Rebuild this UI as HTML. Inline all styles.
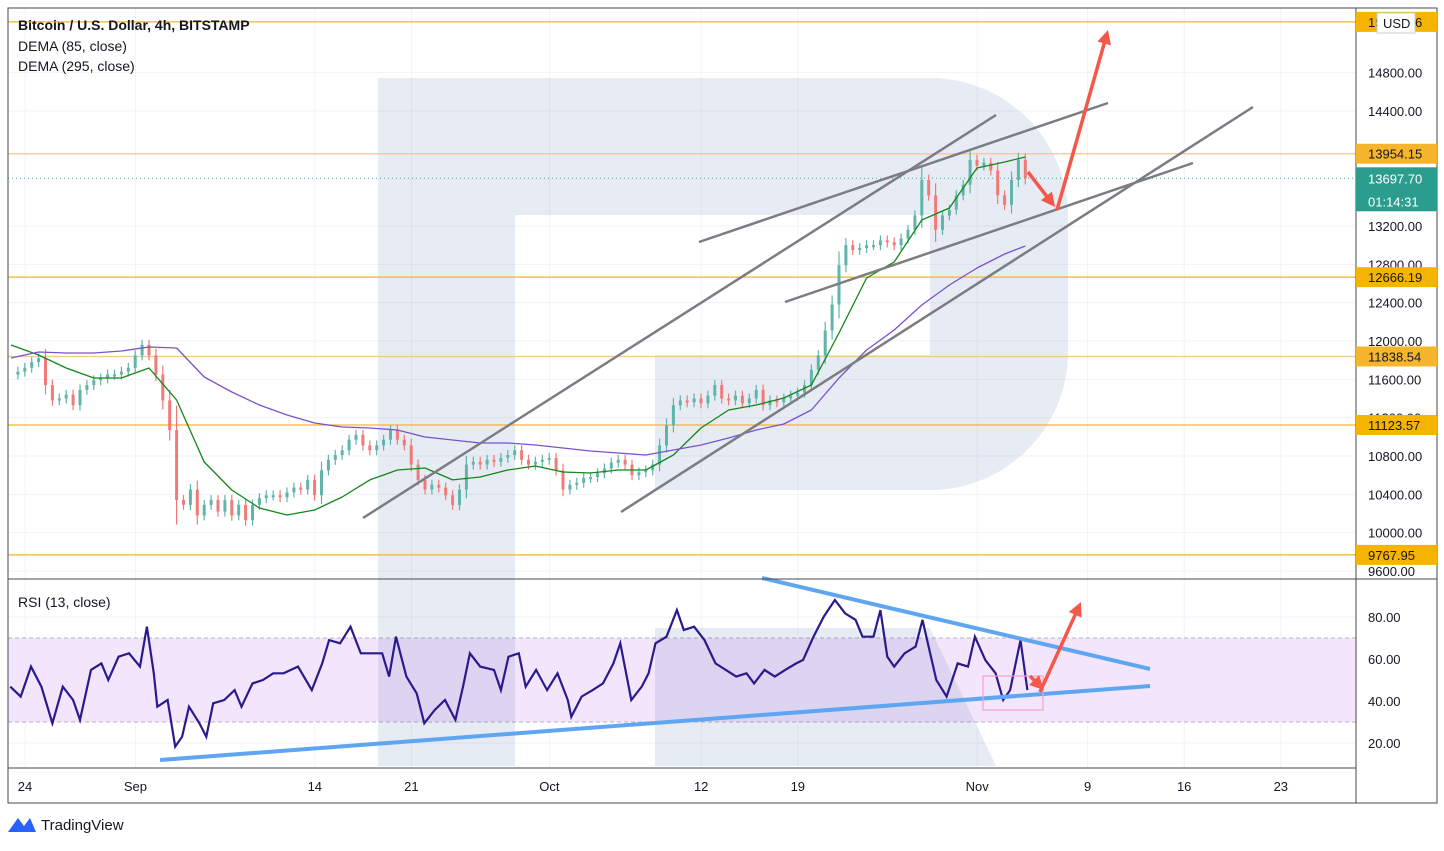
<!DOCTYPE html>
<html><head><meta charset="utf-8"><style>
body{margin:0;background:#fff;width:1444px;height:846px;overflow:hidden;font-family:"Liberation Sans",sans-serif}
svg text{font-family:"Liberation Sans",sans-serif}
</style></head><body>
<svg id="c" width="1444" height="846" xmlns="http://www.w3.org/2000/svg"></svg>
<script>
const closes=[11650,11680,11720,11780,11820,11540,11380,11400,11440,11330,11490,11540,11590,11610,11650,11650,11680,11720,11850,11960,11850,11650,11380,11070,10340,10290,10450,10180,10290,10340,10220,10340,10180,10290,10130,10290,10360,10390,10390,10370,10420,10470,10450,10550,10390,10650,10760,10810,10860,10970,11020,10910,10860,10910,10970,11070,10970,10910,10710,10550,10450,10500,10470,10390,10290,10450,10710,10740,10710,10760,10740,10780,10810,10860,10760,10710,10740,10760,10780,10650,10450,10500,10520,10570,10580,10620,10670,10730,10760,10710,10600,10630,10650,10710,10910,11120,11330,11380,11360,11400,11350,11430,11540,11400,11380,11430,11350,11400,11490,11330,11380,11360,11400,11430,11460,11540,11700,11850,12110,12380,12790,13000,12950,12970,13000,13000,13050,13030,13000,13070,13160,13310,13680,13520,13160,13310,13370,13520,13630,13890,13830,13860,13780,13520,13420,13680,13890,13700];
const dema85=[11958,11854,11718,11614,11614,11718,11384,10737,10445,10257,10184,10236,10372,10550,10654,10675,10550,10581,10654,10696,10633,10622,10654,10654,10810,11092,11280,11332,11405,11541,12083,12657,12824,13263,13388,13805,13868,13920];
const dema295=[11823,11885,11875,11875,11896,11937,11927,11624,11468,11332,11228,11144,11103,11092,11071,10998,10967,10936,10936,10915,10883,10852,10831,10810,10863,10915,10988,11071,11134,11280,11614,11906,12115,12376,12584,12762,12908,12991];
const rsiT=[-0.1,1.4,2.9,4.4,6.0,7.5,9.0,10.0,11.6,13.1,14.1,15.6,17.1,18.7,19.7,20.7,21.2,22.7,23.8,24.8,25.8,27.3,28.3,29.3,30.9,32.4,33.4,35.0,36.5,38.0,39.5,41.6,43.6,45.1,46.1,47.7,49.2,50.7,52.2,53.8,54.8,55.8,57.3,58.8,59.9,61.4,62.9,64.4,65.5,66.5,68.0,70.0,71.0,72.1,73.6,74.6,76.1,77.7,79.2,80.7,81.2,82.7,84.3,85.8,87.3,88.3,89.9,91.4,92.4,93.4,95.0,96.5,97.5,99.0,100.5,102.1,103.6,105.1,106.6,107.7,109.2,110.7,112.2,113.8,114.8,116.3,117.8,119.4,120.9,122.4,123.4,125.0,126.0,127.0,128.0,129.5,131.1,132.1,133.1,134.1,135.6,137.2,138.7,139.7,141.2,142.7,143.8,144.8,146.3,147.3];
const rsiV=[46.8,42.1,56.4,46.8,29.4,46.8,40.5,31.0,54.8,57.9,50.0,61.1,62.7,56.4,75.4,53.2,37.3,40.5,18.3,23.0,37.3,29.4,23.0,38.9,40.5,45.2,37.3,48.4,50.0,53.2,53.2,56.4,45.2,57.9,69.0,67.5,75.4,62.7,62.7,62.7,51.6,70.6,51.6,43.6,29.4,35.7,40.5,31.0,46.8,62.7,56.4,54.8,45.2,61.1,62.7,46.8,54.8,45.2,53.2,40.5,32.5,42.1,45.2,48.4,57.9,67.5,40.5,46.8,53.2,67.5,70.6,83.3,73.8,75.4,69.0,57.9,54.8,51.6,53.2,48.4,54.8,51.6,54.8,57.9,59.5,70.6,80.2,88.1,81.7,78.6,70.6,70.6,83.3,61.1,56.4,62.7,65.9,78.6,64.3,50.0,42.1,57.9,56.4,70.6,59.5,53.2,40.5,45.2,69.0,45.2];
const priceTicks=[14800,14400,13200,12800,12400,12000,11600,11200,10800,10400,10000,9600];
const levels=[15330,13954.15,12666.19,11838.54,11123.57,9767.95];
const levelLabels=["15330.16","13954.15","12666.19","11838.54","11123.57","9767.95"];
const rsiTicks=[80,60,40,20];
const timeLabels=["24","Sep","14","21","Oct","12","19","Nov","9","16","23"];
const timeDays=[0,8,21,28,38,49,56,69,77,84,91];
const lastPrice=13697.70;

const S=document.getElementById('c');const NS="http://www.w3.org/2000/svg";
function el(t,a,p){const e=document.createElementNS(NS,t);for(const k in a)e.setAttribute(k,a[k]);(p||S).appendChild(e);return e;}
const yP=p=>226+(13200-p)*0.09583;
const yR=v=>617+(80-v)*2.1;
const xI=i=>11+i*6.9;
const xD=d=>25+d*13.8;

for(const p of priceTicks){const g=el('line',{x1:8,x2:1356,y1:yP(p),y2:yP(p),stroke:'#f0f3fa'});}
for(const d of timeDays){const g=el('line',{x1:xD(d),x2:xD(d),y1:8,y2:768,stroke:'#f0f3fa'});}
for(const v of rsiTicks){el('line',{x1:8,x2:1356,y1:yR(v),y2:yR(v),stroke:'#f0f3fa'});}
const band=el('rect',{x:8,y:yR(70),width:1348,height:yR(30)-yR(70),fill:'#f3e6fc'});

el('line',{x1:8,x2:1356,y1:yR(70),y2:yR(70),stroke:'#b8b0c0','stroke-dasharray':'4 3'});
el('line',{x1:8,x2:1356,y1:yR(30),y2:yR(30),stroke:'#b8b0c0','stroke-dasharray':'4 3'});
const wm=el('path',{d:'M378 78 H930 A138 138 0 0 1 1068 216 V352 A138 138 0 0 1 930 490 H655 V355 H930 V215 H515 V766 H378 Z M655 628 H930 L996 766 H655 Z',fill:'rgba(40,75,150,0.11)'});

levels.forEach((p,k)=>{const l=el('line',{x1:8,x2:1356,y1:yP(p),y2:yP(p),stroke:k==1||k==3?'#f3c98a':'#f2b62a','stroke-width':1.3});});
el('line',{x1:8,x2:1356,y1:yP(lastPrice),y2:yP(lastPrice),stroke:'#4aa89c','stroke-dasharray':'1 3'});
closes.forEach((c,i)=>{if(i==0)return;const o=closes[i-1];const up=c>=o;const x=xI(i);
 const y1=yP(Math.max(o,c)),y2=yP(Math.min(o,c));const col=up?'#5fb5a9':'#f07a78';
 const ext=Math.max(5,(y2-y1)*0.35);
 el('line',{x1:x,x2:x,y1:y1-ext,y2:y2+ext,stroke:col,'stroke-width':1.2});
 const b=el('rect',{x:x-1.5,y:y1,width:3,height:Math.max(2,y2-y1),fill:col});
 });
function line(vals,idx,col,name){const pts=vals.map((v,k)=>xI(idx(k)).toFixed(1)+','+yP(v).toFixed(1)).join(' ');const p=el('polyline',{points:pts,fill:'none',stroke:col,'stroke-width':1.3,'stroke-linejoin':'round'});}
line(dema85,k=>k==dema85.length-1?147:k*4,'#13871a','dema-85-line');
line(dema295,k=>k==dema295.length-1?147:k*4,'#7a52d1','dema-295-line');
[[363,518,996,115],[699,242,1108,103],[785,302,1193,163],[621,512,1253,107]].forEach(a=>{const l=el('line',{x1:a[0],y1:a[1],x2:a[2],y2:a[3],stroke:'#7b7d82','stroke-width':2.5});});
const rp=el('polyline',{points:rsiT.map((t,k)=>xI(t).toFixed(1)+','+yR(rsiV[k]).toFixed(1)).join(' '),fill:'none',stroke:'#2a1a8c','stroke-width':2.2});

[[160,760,1150,686],[762,578,1150,669]].forEach(a=>{const l=el('line',{x1:a[0],y1:a[1],x2:a[2],y2:a[3],stroke:'#5ea6f2','stroke-width':4});});
const pr=el('rect',{x:983,y:676,width:60,height:34,fill:'none',stroke:'#f4a3c0','stroke-width':1.2});
function arrow(x1,y1,x2,y2,name){const a=Math.atan2(y2-y1,x2-x1),L=14,W=7;
 const g=el('g',{});
 el('line',{x1,y1,x2:x2-Math.cos(a)*L*0.8,y2:y2-Math.sin(a)*L*0.8,stroke:'#f5574a','stroke-width':3.5},g);
 const bx=x2-Math.cos(a)*L,by=y2-Math.sin(a)*L;
 el('polygon',{points:`${x2},${y2} ${bx+Math.sin(a)*W},${by-Math.cos(a)*W} ${bx-Math.sin(a)*W},${by+Math.cos(a)*W}`,fill:'#f5574a'},g);}
arrow(1057,210,1108,30,'up-arrow');arrow(1028,172,1055,207,'down-arrow');
arrow(1040,692,1081,602,'rsi-up-arrow');arrow(1030,676,1044,690,'rsi-down-arrow');
el('rect',{x:1356,y:8,width:81,height:795,fill:'#fff'});
el('rect',{x:8,y:768,width:1348,height:35,fill:'#fff'});
el('rect',{x:8,y:8,width:1429,height:795,fill:'none',stroke:'#4a4a4a','stroke-width':1});
el('line',{x1:8,x2:1437,y1:579,y2:579,stroke:'#4a4a4a'});
el('line',{x1:8,x2:1356,y1:768,y2:768,stroke:'#4a4a4a'});
el('line',{x1:1356,x2:1356,y1:8,y2:803,stroke:'#4a4a4a'});
for(const p of priceTicks){const t=el('text',{x:1368,y:yP(p)+5,'font-size':13,fill:'#131722'});t.textContent=p.toFixed(2);}
for(const v of rsiTicks){const t=el('text',{x:1368,y:yR(v)+5,'font-size':13,fill:'#131722'});t.textContent=v.toFixed(2);}
levels.forEach((p,k)=>{const y=yP(p);const g=el('g',{});
 el('rect',{x:1356,y:y-10,width:81,height:20,fill:k==1||k==3?'#f5b52c':'#f5b400'},g);
 const t=el('text',{x:1368,y:y+5,'font-size':13,fill:'#131722'},g);t.textContent=levelLabels[k];});
const ub=el('rect',{x:1377,y:13,width:38,height:20,fill:'#fff',stroke:'#ccc'});
const ut=el('text',{x:1383,y:28,'font-size':13,fill:'#131722'});ut.textContent='USD';
const lb=el('g',{});
el('rect',{x:1356,y:yP(lastPrice)-11,width:81,height:44,fill:'#2a9d8f'},lb);
const lt=el('text',{x:1368,y:yP(lastPrice)+5,'font-size':13,fill:'#fff'},lb);lt.textContent=lastPrice.toFixed(2);
const ct=el('text',{x:1368,y:yP(lastPrice)+28,'font-size':13,fill:'#fff'},lb);ct.textContent='01:14:31';
timeLabels.forEach((s,k)=>{const t=el('text',{x:xD(timeDays[k]),y:791,'font-size':13,fill:'#131722','text-anchor':'middle'});t.textContent=s;});
const l1=el('text',{x:18,y:30,'font-size':14,'font-weight':'bold',fill:'#131722'});l1.textContent='Bitcoin / U.S. Dollar, 4h, BITSTAMP';
const l2=el('text',{x:18,y:51,'font-size':14,fill:'#131722'});l2.textContent='DEMA (85, close)';
const l3=el('text',{x:18,y:71,'font-size':14,fill:'#131722'});l3.textContent='DEMA (295, close)';
const l4=el('text',{x:18,y:607,'font-size':14,fill:'#131722'});l4.textContent='RSI (13, close)';
const tv=el('g',{});
el('path',{d:'M8 832 L18 818 L24 826 L30 818 L36 832 Z',fill:'#2962ff'},tv);
const tt=el('text',{x:41,y:830,'font-size':15,fill:'#131722'},tv);tt.textContent='TradingView';
</script>
</body></html>
